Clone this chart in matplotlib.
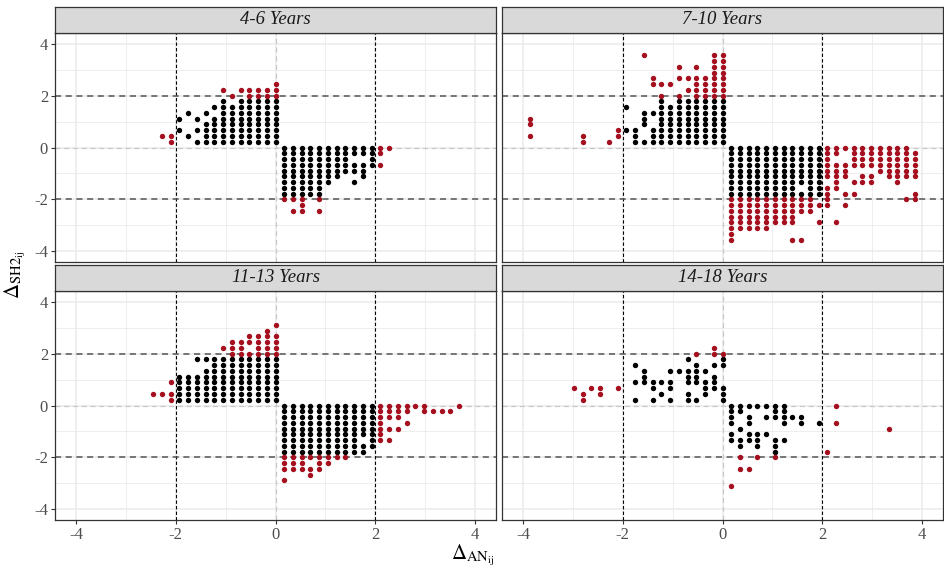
import numpy as np
import matplotlib
matplotlib.use('Agg')
import matplotlib.pyplot as plt

plt.rcParams['font.family'] = ['Liberation Serif', 'DejaVu Serif']
plt.rcParams['mathtext.fontset'] = 'stix'
plt.rcParams['axes.unicode_minus'] = False

# ── Score grid (differences of standardised scores fall on a lattice) ─────
DX = 0.1753
DY = 0.2222

panel_titles = ['4-6 Years', '7-10 Years', '11-13 Years', '14-18 Years']

# column index (x / DX) -> row indices (y / DY)
pts_4_6 = {
    -13: [2],
    -12: [2, 1],
    -11: [5, 3],
    -10: [6, 2],
    -9: [5, 3, 1],
    -8: [6, 4, 3, 2, 1],
    -7: [7, 5, 4, 3, 2, 1],
    -6: [10, 8, 7, 6, 5, 4, 3, 2, 1],
    -5: [9, 7, 6, 5, 4, 3, 2, 1],
    -4: [10, 8, 7, 6, 5, 4, 3, 2, 1],
    -3: [10, 9, 8, 7, 6, 5, 4, 3, 2, 1],
    -2: [10, 9, 8, 7, 6, 5, 4, 3, 2, 1],
    -1: [10, 9, 8, 7, 6, 5, 4, 3, 2, 1],
    0: [11, 10, 9, 8, 7, 6, 5, 4, 3, 2, 1],
    1: [0, -1, -2, -3, -4, -5, -6, -7, -8, -9],
    2: [0, -1, -2, -3, -4, -5, -6, -7, -8, -9, -11],
    3: [0, -1, -2, -3, -4, -5, -6, -7, -8, -9, -10, -11],
    4: [0, -1, -2, -3, -4, -5, -6, -7, -8],
    5: [0, -1, -2, -3, -4, -5, -6, -7, -8, -9, -11],
    6: [0, -1, -2, -3, -4, -5, -6],
    7: [0, -1, -2, -3, -4, -5],
    8: [0, -1, -2, -3, -4],
    9: [0, -1, -3, -4, -6],
    10: [0, -1, -3, -4, -5],
    11: [0, -1, -2, -3],
    12: [0, -1, -3],
    13: [0],
}

pts_7_10 = {
    -22: [5, 4, 2],
    -16: [2, 1],
    -13: [1],
    -12: [3, 2],
    -11: [7, 3],
    -10: [3, 2, 1],
    -9: [16, 6, 5, 4, 1],
    -8: [12, 11, 6, 3, 2, 1],
    -7: [11, 9, 8, 7, 6, 5, 4, 3, 2, 1],
    -6: [11, 7, 6, 5, 4, 3, 2, 1],
    -5: [14, 12, 9, 8, 7, 6, 5, 4, 3, 2, 1],
    -4: [12, 10, 8, 7, 6, 5, 4, 3, 2, 1],
    -3: [14, 12, 11, 10, 9, 8, 7, 6, 5, 4, 3, 2, 1],
    -2: [12, 11, 10, 9, 8, 7, 6, 5, 4, 3, 2, 1],
    -1: [16, 15, 14, 13, 12, 11, 10, 9, 8, 7, 6, 5, 4, 3, 2, 1],
    0: [16, 15, 14, 13, 12, 11, 10, 9, 8, 7, 6, 5, 4, 3, 2, 1],
    1: [0, -1, -2, -3, -4, -5, -6, -7, -8, -9, -10, -11, -12, -13, -14, -15, -16],
    2: [0, -1, -2, -3, -4, -5, -6, -7, -8, -9, -10, -11, -12, -13, -14],
    3: [0, -1, -2, -3, -4, -5, -6, -7, -8, -9, -10, -11, -12, -13, -14],
    4: [0, -1, -2, -3, -4, -5, -6, -7, -8, -9, -10, -11, -12, -13, -14],
    5: [0, -1, -2, -3, -4, -5, -6, -7, -8, -9, -10, -11, -12, -13, -14],
    6: [0, -1, -2, -3, -4, -5, -6, -7, -8, -9, -10, -11, -12, -13],
    7: [0, -1, -2, -3, -4, -5, -6, -7, -8, -9, -10, -11, -12, -13],
    8: [0, -1, -2, -3, -4, -5, -6, -7, -8, -9, -10, -11, -12, -13, -16],
    9: [0, -1, -2, -3, -4, -5, -6, -8, -9, -10, -11, -16],
    10: [0, -1, -2, -3, -4, -5, -6, -7, -8, -9, -10, -11],
    11: [0, -1, -2, -3, -4, -5, -6, -7, -8, -10, -13],
    12: [0, -1, -2, -3, -4, -5, -7, -8, -9, -10],
    13: [0, -1, -3, -4, -5, -6, -7, -13],
    14: [0, -3, -4, -5, -8, -10],
    15: [0, -1, -2, -3, -6, -8],
    16: [0, -1, -2, -3, -5, -6],
    17: [0, -1, -2, -3, -5, -6],
    18: [0, -1, -2, -3, -4],
    19: [0, -1, -2, -3, -4, -5],
    20: [0, -1, -2, -3, -4, -5, -6],
    21: [0, -1, -2, -3, -4, -5, -9],
    22: [-1, -2, -3, -4, -5, -8, -9],
}

pts_11_13 = {
    -14: [2],
    -13: [2],
    -12: [4, 2, 1],
    -11: [5, 4, 3, 2, 1],
    -10: [5, 4, 3, 2, 1],
    -9: [8, 5, 4, 3, 2, 1],
    -8: [8, 6, 5, 4, 3, 2, 1],
    -7: [8, 7, 6, 5, 4, 3, 2, 1],
    -6: [10, 8, 7, 6, 5, 4, 3, 2, 1],
    -5: [11, 10, 9, 8, 7, 6, 5, 4, 3, 2, 1],
    -4: [11, 10, 9, 8, 7, 6, 5, 4, 3, 2, 1],
    -3: [12, 11, 9, 8, 7, 6, 5, 4, 3, 2, 1],
    -2: [12, 11, 10, 9, 8, 7, 6, 5, 4, 3, 2, 1],
    -1: [13, 12, 11, 10, 9, 8, 7, 6, 5, 4, 3, 2, 1],
    0: [14, 12, 11, 10, 9, 8, 7, 6, 5, 4, 3, 2, 1],
    1: [0, -1, -2, -3, -4, -5, -6, -7, -8, -9, -10, -11, -13],
    2: [0, -1, -2, -3, -4, -5, -6, -7, -8, -9, -10, -11],
    3: [0, -1, -2, -3, -4, -5, -6, -7, -8, -9, -10, -11],
    4: [0, -1, -2, -3, -4, -5, -6, -7, -8, -9, -11, -12],
    5: [0, -1, -2, -3, -4, -5, -6, -7, -8, -9, -10, -11],
    6: [0, -1, -2, -3, -4, -5, -6, -7, -8, -9, -10],
    7: [0, -1, -2, -3, -4, -5, -6, -7, -8, -9],
    8: [0, -1, -2, -3, -4, -5, -6, -7, -8, -9],
    9: [0, -1, -2, -3, -4, -5, -6, -7, -8],
    10: [0, -1, -2, -3, -4, -5, -7, -8],
    11: [0, -1, -2, -3, -4, -5, -6, -7],
    12: [0, -1, -2, -3, -4, -5, -6],
    13: [0, -1, -2, -4, -6],
    14: [0, -1, -2, -4],
    15: [0, -1, -3],
    16: [0],
    17: [0, -1],
    18: [-1],
    19: [-1],
    20: [-1],
    21: [0],
}

pts_14_18 = {
    -17: [3],
    -16: [2, 1],
    -15: [3],
    -14: [3, 2],
    -12: [3],
    -10: [7, 4, 1],
    -9: [6, 5, 4],
    -8: [4, 3, 1],
    -7: [4, 2],
    -6: [6, 4, 3, 1],
    -5: [6],
    -4: [8, 6, 5, 4, 2, 1],
    -3: [9, 7, 6, 5, 4, 1],
    -2: [6, 4, 3, 2],
    -1: [10, 9, 7, 5, 4, 3],
    0: [9, 8, 7, 3, 2, 1],
    1: [0, -1, -2, -3, -5, -6, -14],
    2: [0, -1, -4, -6, -7, -9, -11],
    3: [0, -2, -3, -5, -6, -11],
    4: [0, -5, -6, -7, -9],
    5: [0, -2, -5],
    6: [0, -1, -2, -6, -7, -8, -9],
    7: [0, -1, -2, -3, -6],
    8: [-2],
    9: [-2, -3],
    11: [-3],
    12: [-8],
    13: [0, -3],
    19: [-4],
}

panel_points = [pts_4_6, pts_7_10, pts_11_13, pts_14_18]

CUTOFF = 2.0
COL_IN = 'black'
COL_OUT = '#a50f1e'

# ── Layout (pixel boxes of the reference) ─────────────────────────────────
W, H = 944, 567
fig = plt.figure(figsize=(W / 100, H / 100), dpi=100)

px_left = [55, 502, 55, 502]
px_top = [33, 33, 291, 291]
PW, PH, STRIP = 441, 229, 26

for i, (title, pts) in enumerate(zip(panel_titles, panel_points)):
    x0 = px_left[i] / W
    y0 = 1 - (px_top[i] + PH) / H
    ax = fig.add_axes([x0, y0, PW / W, PH / H])
    sax = fig.add_axes([x0, 1 - px_top[i] / H, PW / W, STRIP / H])

    # points
    xs, ys = [], []
    for k, rows in pts.items():
        for j in rows:
            xs.append(k * DX)
            ys.append(j * DY)
    xs = np.array(xs)
    ys = np.array(ys)
    far = (np.abs(xs) >= CUTOFF) | (np.abs(ys) >= CUTOFF - 0.01)

    ax.set_xlim(-4.42, 4.42)
    ax.set_ylim(-4.42, 4.42)

    # grid
    for v in [-4, -2, 0, 2, 4]:
        ax.axvline(v, color='#ebebeb', lw=1.1, zorder=0)
        ax.axhline(v, color='#ebebeb', lw=1.1, zorder=0)
    for v in [-3, -1, 1, 3]:
        ax.axvline(v, color='#ebebeb', lw=0.6, zorder=0)
        ax.axhline(v, color='#ebebeb', lw=0.6, zorder=0)

    # reference lines
    ax.axvline(0, color='#c8c8c8', lw=0.9, ls=(0, (4, 3)), zorder=1)
    ax.axhline(0, color='#c8c8c8', lw=0.9, ls=(0, (4, 3)), zorder=1)
    for v in [-2, 2]:
        ax.axvline(v, color='black', lw=0.8, ls=(0, (3, 2)), zorder=1)
        ax.axhline(v, color='#555555', lw=1.1, ls=(0, (4, 3)), zorder=1)

    ax.scatter(xs[~far], ys[~far], s=15, c=COL_IN, linewidths=0, zorder=3)
    ax.scatter(xs[far], ys[far], s=15, c=COL_OUT, linewidths=0, zorder=3)

    for sp in ax.spines.values():
        sp.set_color('#333333')
        sp.set_linewidth(0.9)

    ax.set_xticks([-4, -2, 0, 2, 4])
    ax.set_yticks([-4, -2, 0, 2, 4])
    ax.tick_params(length=3, width=0.8, color='#333333', labelcolor='#4d4d4d',
                   labelsize=12, pad=2)
    if i in (0, 1):
        ax.tick_params(axis='x', bottom=False, labelbottom=False)
    if i in (1, 3):
        ax.tick_params(axis='y', left=False, labelleft=False)

    # strip
    sax.set_facecolor('#d9d9d9')
    sax.set_xticks([])
    sax.set_yticks([])
    for sp in sax.spines.values():
        sp.set_color('#333333')
        sp.set_linewidth(0.9)
    sax.text(0.5, 0.5, title, transform=sax.transAxes, ha='center', va='center',
             fontsize=13.5, style='italic', color='#1a1a1a')

fig.text(473 / W, 1 - 555 / H, r'$\Delta_{\mathrm{AN}_{\mathrm{ij}}}$',
         ha='center', va='center', fontsize=15)
fig.text(15 / W, 1 - 275 / H, r'$\Delta_{\mathrm{SH2}_{\mathrm{ij}}}$',
         ha='center', va='center', fontsize=15, rotation=90)

fig.savefig('out.png', dpi=100, facecolor='white')
